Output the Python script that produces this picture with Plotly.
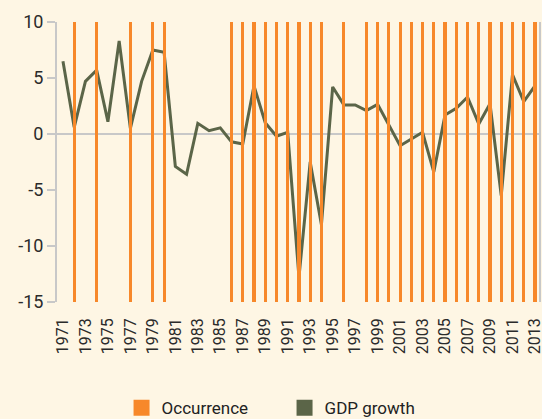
import plotly.graph_objects as go

years = list(range(1971, 2014))
gdp_growth = [6.5, 0.6, 4.7, 5.7, 1.1, 8.3, 0.5, 4.7, 7.5, 7.3,
              -2.9, -3.6, 0.95, 0.3, 0.55, -0.7, -0.9, 4.3, 1.0, -0.2,
              0.15, -12.8, -2.5, -8.1, 4.2, 2.6, 2.6, 2.1, 2.65, 0.8,
              -1.05, -0.45, 0.15, -3.4, 1.7, 2.3, 3.3, 0.9, 2.7, -5.5,
              5.3, 2.9, 4.3]
occurrence_years = [1972, 1974, 1977, 1979, 1980, 1986, 1987, 1988, 1989, 1990,
                    1991, 1992, 1993, 1994, 1996, 1998, 1999, 2000, 2001, 2002,
                    2003, 2004, 2005, 2006, 2007, 2008, 2009, 2010, 2011, 2012, 2013]
occurrence = [1 if y in occurrence_years else 0 for y in years]
y_ticks = [10, 5, 0, -5, -10, -15]
y_ticklabels = ["10", "5", "0", "-5", "-10", "-15"]
x_ticks = list(range(1971, 2014, 2))

ORANGE = "#F7882A"
GREEN = "#5B6548"
BG = "#FEF6E4"
GRAY = "#C8C8C8"
FONT = "Roboto"

fig = go.Figure()
fig.add_trace(go.Bar(x=years, y=occurrence, yaxis="y2", marker_color=ORANGE,
                     marker_line_width=0, width=0.28, showlegend=False,
                     name="Occurrence"))
fig.add_trace(go.Scatter(x=years, y=gdp_growth, mode="lines",
                         line=dict(color=GREEN, width=3), showlegend=False,
                         name="GDP growth"))
# legend swatches
fig.add_trace(go.Scatter(x=[None], y=[None], mode="markers", name="Occurrence",
                         marker=dict(symbol="square", size=16, color=ORANGE)))
fig.add_trace(go.Scatter(x=[None], y=[None], mode="markers", name="GDP growth",
                         marker=dict(symbol="square", size=16, color=GREEN)))

fig.update_layout(
    width=542, height=419,
    paper_bgcolor=BG, plot_bgcolor=BG,
    margin=dict(l=57, r=3, t=22, b=117, autoexpand=False),
    font=dict(family=FONT, color="#2b2b2b"),
    bargap=0,
    xaxis=dict(range=[1970.47, 2013.36], tickmode="array", tickvals=x_ticks,
               ticktext=[str(t) for t in x_ticks], tickangle=-90,
               showgrid=False, zeroline=False, showline=False, ticks="",
               tickfont=dict(size=16, family=FONT, color="#2b2b2b"),
               ticklabelstandoff=12, ticklabeloverflow="allow", automargin=False),
    yaxis=dict(range=[-15, 10], tickmode="array", tickvals=y_ticks,
               ticktext=y_ticklabels,
               showgrid=False, zeroline=True, zerolinecolor=GRAY, zerolinewidth=2,
               showline=True, linecolor=GRAY, linewidth=2, mirror=True,
               ticks="outside", ticklen=8, tickcolor=GRAY, tickwidth=2,
               tickfont=dict(size=18, family=FONT, color="#2b2b2b"),
               ticklabeloverflow="allow", automargin=False),
    yaxis2=dict(range=[0, 1], overlaying="y", visible=False),
    legend=dict(orientation="h", xref="container", yref="container",
                x=0.525, xanchor="center", y=0.026, yanchor="middle",
                font=dict(size=17, family=FONT, color="#222222"),
                entrywidth=118, bgcolor="rgba(0,0,0,0)"),
)

fig.write_html("out.html", config={"displayModeBar": False},
               post_script="document.body.style.margin='0';"
                           "document.body.style.background='#FEF6E4';")
